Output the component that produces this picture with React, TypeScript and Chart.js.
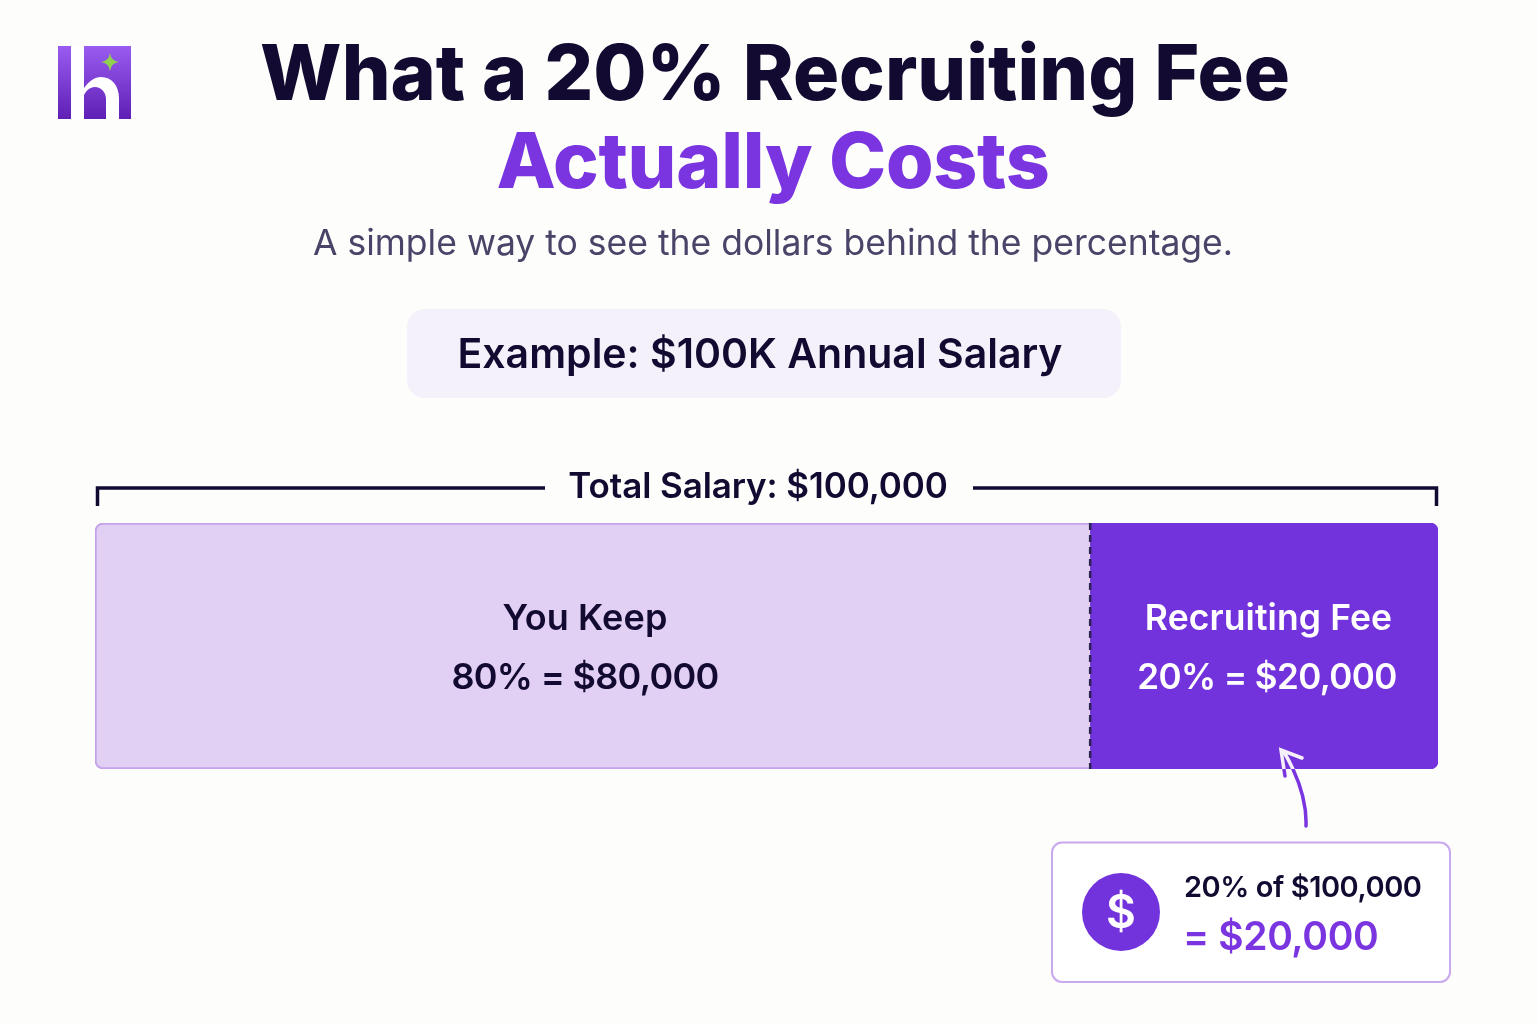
import React, { useEffect, useRef } from "react";
import { Chart, registerables } from "chart.js";

Chart.register(...registerables);

const titleLines = ["What a 20% Recruiting Fee", "Actually Costs"];
const subtitle = "A simple way to see the dollars behind the percentage.";
const exampleLabel = "Example: $100K Annual Salary";
const totalLabel = "Total Salary: $100,000";
const categories = ["Salary"];
const segmentNames = ["You Keep", "Recruiting Fee"];
const segmentTexts = ["80% = $80,000", "20% = $20,000"];
// The stated amounts are 80/20, but the picture draws the split at about 74/26.
const drawnShares = [74.1, 25.9];
const calloutLines = ["20% of $100,000", "= $20,000"];

const INK = "#120a30";
const PURPLE = "#7a35e0";
const FONT = "Inter, 'Noto Sans', sans-serif";

function txt(ctx: CanvasRenderingContext2D, s: string, x: number, y: number, font: string, color: string, align: CanvasTextAlign = "center", spacing = 0) {
  ctx.font = `${font} ${FONT}`;
  (ctx as any).letterSpacing = `${spacing}px`;
  ctx.fillStyle = color;
  ctx.textAlign = align;
  ctx.textBaseline = "middle";
  ctx.fillText(s, x, y);
  (ctx as any).letterSpacing = "0px";
}

function rr(ctx: CanvasRenderingContext2D, x: number, y: number, w: number, h: number, r: number) {
  ctx.beginPath();
  ctx.roundRect(x, y, w, h, r);
}

const decorations = {
  id: "decorations",
  beforeDraw(chart: Chart) {
    const ctx = chart.ctx;
    ctx.save();
    ctx.fillStyle = "#fdfdfc";
    ctx.fillRect(0, 0, chart.width, chart.height);

    // logo
    const g = ctx.createLinearGradient(0, 46, 0, 119);
    g.addColorStop(0, "#9a5cf0");
    g.addColorStop(1, "#5f1fb5");
    ctx.fillStyle = g;
    ctx.fillRect(58, 46, 73, 73);
    ctx.fillStyle = "#ffffff";
    ctx.fillRect(71, 46, 13, 73);
    ctx.beginPath();
    ctx.moveTo(83, 119);
    ctx.lineTo(83, 90);
    ctx.bezierCurveTo(88, 81, 95, 77, 101, 77);
    ctx.bezierCurveTo(112, 77, 119, 86, 119, 98);
    ctx.lineTo(119, 119);
    ctx.lineTo(106, 119);
    ctx.lineTo(106, 99);
    ctx.bezierCurveTo(106, 92, 101, 87, 95, 87);
    ctx.bezierCurveTo(89, 87, 84, 92, 83, 99);
    ctx.closePath();
    ctx.fill();
    ctx.fillStyle = "#8fd14f";
    ctx.beginPath();
    ctx.moveTo(110, 53);
    ctx.quadraticCurveTo(111, 61, 119, 62);
    ctx.quadraticCurveTo(111, 63, 110, 71);
    ctx.quadraticCurveTo(109, 63, 101, 62);
    ctx.quadraticCurveTo(109, 61, 110, 53);
    ctx.fill();

    // headings
    txt(ctx, titleLines[0], 775, 77, "800 77px", INK);
    txt(ctx, titleLines[1], 773, 165, "800 77px", PURPLE, "center", -0.3);
    txt(ctx, subtitle, 773, 244, "400 35.5px", "#4a4468");

    // example pill
    ctx.fillStyle = "#f5f1fb";
    rr(ctx, 407, 309, 714, 89, 18);
    ctx.fill();
    txt(ctx, exampleLabel, 760, 356, "600 41px", INK);

    // bracket
    ctx.strokeStyle = INK;
    ctx.lineWidth = 3.5;
    ctx.beginPath();
    ctx.moveTo(97.5, 506);
    ctx.lineTo(97.5, 488);
    ctx.lineTo(545, 488);
    ctx.moveTo(973, 488);
    ctx.lineTo(1436.5, 488);
    ctx.lineTo(1436.5, 506);
    ctx.stroke();
    txt(ctx, totalLabel, 758, 487, "600 35px", INK, "center", -0.1);
    ctx.restore();
  },
  afterDatasetsDraw(chart: Chart) {
    const ctx = chart.ctx;
    const x = chart.scales.x;
    const area = chart.chartArea;
    ctx.save();
    // divider at the boundary of the two segments
    const split = x.getPixelForValue(drawnShares[0]);
    ctx.strokeStyle = "#2c2350";
    ctx.lineWidth = 2.5;
    ctx.setLineDash([7, 5]);
    ctx.beginPath();
    ctx.moveTo(split, area.top);
    ctx.lineTo(split, area.bottom);
    ctx.stroke();
    ctx.setLineDash([]);

    // segment labels
    const c0 = 585;
    const c1 = 1268;
    txt(ctx, segmentNames[0], c0, 619, "600 36px", INK, "center", 0.1);
    txt(ctx, segmentTexts[0], c0, 678, "600 36px", INK, "center", -0.7);
    txt(ctx, segmentNames[1], c1 + 0.5, 619, "600 35.5px", "#ffffff", "center", 0.1);
    txt(ctx, segmentTexts[1], c1 - 1, 678, "600 35px", "#ffffff", "center", -0.6);

    // arrow
    const arrow = () => {
      ctx.lineWidth = 3.5;
      ctx.lineCap = "round";
      ctx.lineJoin = "miter";
      ctx.beginPath();
      ctx.moveTo(1306, 826);
      ctx.bezierCurveTo(1307, 800, 1298, 776, 1284, 752);
      ctx.moveTo(1302, 758);
      ctx.lineTo(1281, 750);
      ctx.lineTo(1285, 776);
      ctx.stroke();
    };
    ctx.save();
    ctx.beginPath();
    ctx.rect(1200, area.bottom, 200, 200);
    ctx.clip();
    ctx.strokeStyle = PURPLE;
    arrow();
    ctx.restore();
    ctx.save();
    ctx.beginPath();
    ctx.rect(1200, 700, 200, area.bottom - 700);
    ctx.clip();
    ctx.strokeStyle = "#f6f0fd";
    arrow();
    ctx.restore();

    // callout
    ctx.fillStyle = "#ffffff";
    ctx.strokeStyle = "#c9a8ee";
    ctx.lineWidth = 2;
    rr(ctx, 1052, 842.5, 398, 139.5, 10);
    ctx.fill();
    ctx.stroke();
    ctx.fillStyle = "#7232dc";
    ctx.beginPath();
    ctx.arc(1121, 912, 39, 0, Math.PI * 2);
    ctx.fill();
    txt(ctx, "$", 1121, 914, "600 46px", "#ffffff");
    txt(ctx, calloutLines[0], 1184, 888, "600 29px", INK, "left", -0.45);
    txt(ctx, calloutLines[1], 1183, 938, "600 39px", PURPLE, "left", -0.4);
    ctx.restore();
  },
};

export default function App() {
  const ref = useRef<HTMLCanvasElement>(null);
  useEffect(() => {
    document.body.style.margin = "0";
    document.body.style.background = "#fdfdfc";
    const chart = new Chart(ref.current!, {
      type: "bar",
      data: {
        labels: categories,
        datasets: [
          {
            label: segmentNames[0],
            data: [drawnShares[0]],
            backgroundColor: "#e2d0f4",
            borderColor: "#c4a3ea",
            borderWidth: { left: 2, top: 2, bottom: 2, right: 0 },
            borderSkipped: false,
            borderRadius: { topLeft: 8, bottomLeft: 8, topRight: 0, bottomRight: 0 },
          },
          {
            label: segmentNames[1],
            data: [drawnShares[1]],
            backgroundColor: "#7232dc",
            borderWidth: 0,
            borderSkipped: false,
            borderRadius: { topLeft: 0, bottomLeft: 0, topRight: 8, bottomRight: 8 },
          },
        ],
      },
      options: {
        indexAxis: "y",
        responsive: false,
        animation: false,
        layout: { padding: { left: 95, right: 100, top: 523, bottom: 254 } },
        datasets: { bar: { barPercentage: 1, categoryPercentage: 1 } },
        scales: {
          x: { stacked: true, min: 0, max: 100, display: false },
          y: { stacked: true, display: false },
        },
        plugins: { legend: { display: false }, tooltip: { enabled: false }, title: { display: false } },
      },
      plugins: [decorations],
    } as any);
    return () => chart.destroy();
  }, []);
  return <canvas ref={ref} width={1538} height={1023} style={{ display: "block" }} />;
}
